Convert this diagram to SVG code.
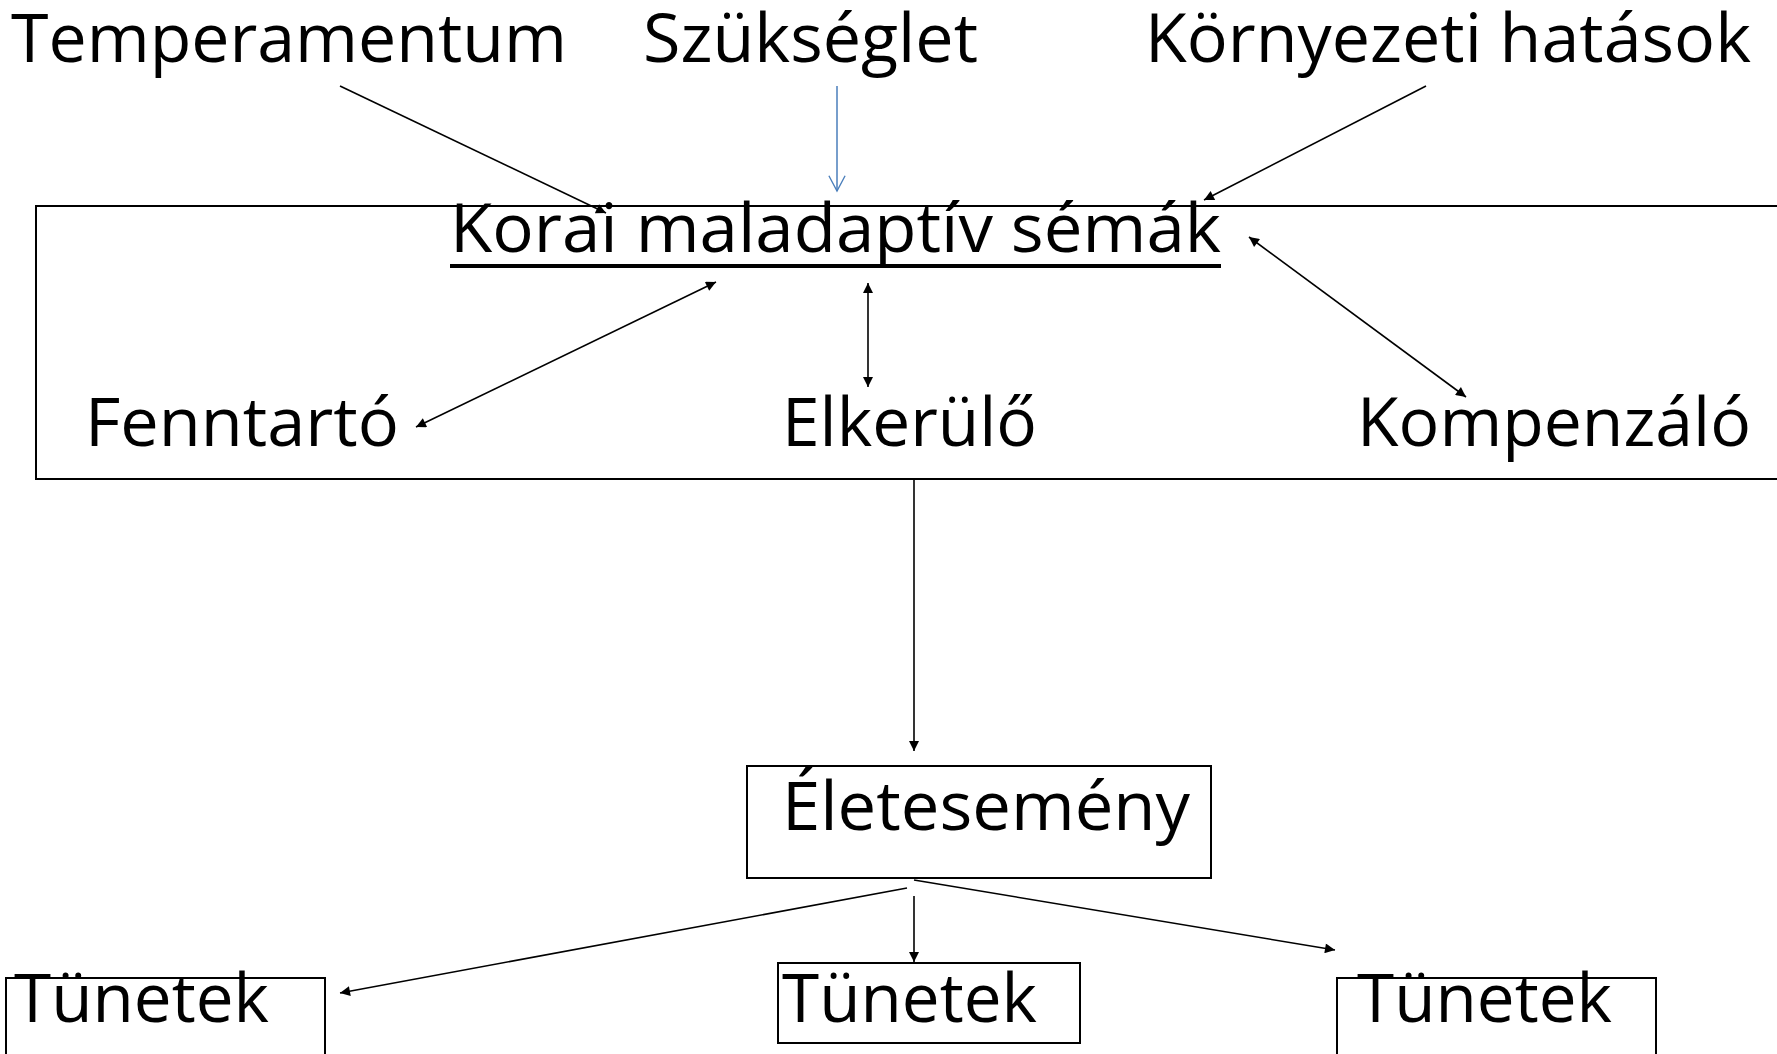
<svg xmlns="http://www.w3.org/2000/svg" width="1777" height="1054" viewBox="0 0 1777 1054">
<style>
text{font-family:"Open Sans","Noto Sans","DejaVu Sans",sans-serif;font-size:68px;fill:#000}
.box{fill:none;stroke:#000;stroke-width:2}
.c{fill:none;stroke:#000;stroke-width:1.6}
.blue{fill:none;stroke:#4a7ebb;stroke-width:1.5}
</style>
<defs>
<marker id="ah" viewBox="0 0 10 10" refX="10" refY="5" markerWidth="12" markerHeight="10" markerUnits="userSpaceOnUse" orient="auto-start-reverse">
<path d="M0,0 L10,5 L0,10 z" fill="#000"/>
</marker>
<marker id="av" viewBox="0 0 20 20" refX="18" refY="10" markerWidth="18" markerHeight="20" markerUnits="userSpaceOnUse" orient="auto">
<path d="M1,1 L18,10 L1,19" fill="none" stroke="#4a7ebb" stroke-width="1.5"/>
</marker>
</defs>
<rect width="1777" height="1054" fill="#fff"/>
<g id="temperamentum"><text x="11" y="62" textLength="556" lengthAdjust="spacingAndGlyphs">Temperamentum</text></g>
<g id="szukseglet"><text x="643" y="62" textLength="335" lengthAdjust="spacingAndGlyphs">Szükséglet</text></g>
<g id="kornyezeti"><text x="1145" y="62" textLength="606" lengthAdjust="spacingAndGlyphs">Környezeti hatások</text></g>
<g id="sema-box">
<rect class="box" x="36" y="206" width="1800" height="273"/>
<text x="450" y="252" textLength="771" lengthAdjust="spacingAndGlyphs">Korai maladaptív sémák</text>
<line x1="450" y1="266" x2="1221" y2="266" stroke="#000" stroke-width="4"/>
</g>
<g id="fenntarto"><text x="85" y="446" textLength="314" lengthAdjust="spacingAndGlyphs">Fenntartó</text></g>
<g id="elkerulo"><text x="782" y="446" textLength="255" lengthAdjust="spacingAndGlyphs">Elkerülő</text></g>
<g id="kompenzalo"><text x="1357" y="446" textLength="394" lengthAdjust="spacingAndGlyphs">Kompenzáló</text></g>
<g id="eletesemeny">
<rect class="box" x="747" y="766" width="464" height="112"/>
<text x="782" y="830" textLength="408" lengthAdjust="spacingAndGlyphs">Életesemény</text>
</g>
<g id="tunetek1">
<rect class="box" x="6" y="978" width="319" height="90"/>
<text x="14" y="1022" textLength="255" lengthAdjust="spacingAndGlyphs">Tünetek</text>
</g>
<g id="tunetek2">
<rect class="box" x="778" y="963" width="302" height="80"/>
<text x="782" y="1022" textLength="255" lengthAdjust="spacingAndGlyphs">Tünetek</text>
</g>
<g id="tunetek3">
<rect class="box" x="1337" y="978" width="319" height="90"/>
<text x="1357" y="1022" textLength="255" lengthAdjust="spacingAndGlyphs">Tünetek</text>
</g>
<g id="connectors">
<line class="c" x1="340" y1="86" x2="606" y2="213" marker-end="url(#ah)"/>
<line class="blue" x1="837" y1="86" x2="837" y2="191" marker-end="url(#av)"/>
<line class="c" x1="1426" y1="86" x2="1204" y2="200" marker-end="url(#ah)"/>
<line class="c" x1="716" y1="282" x2="416" y2="427" marker-start="url(#ah)" marker-end="url(#ah)"/>
<line class="c" x1="868" y1="283" x2="868" y2="387" marker-start="url(#ah)" marker-end="url(#ah)"/>
<line class="c" x1="1249" y1="237" x2="1466" y2="397" marker-start="url(#ah)" marker-end="url(#ah)"/>
<line class="c" x1="914" y1="479" x2="914" y2="751" marker-end="url(#ah)"/>
<line class="c" x1="907" y1="888" x2="340" y2="993" marker-end="url(#ah)"/>
<line class="c" x1="914" y1="896" x2="914" y2="962" marker-end="url(#ah)"/>
<line class="c" x1="914" y1="880" x2="1335" y2="950" marker-end="url(#ah)"/>
</g>
</svg>
